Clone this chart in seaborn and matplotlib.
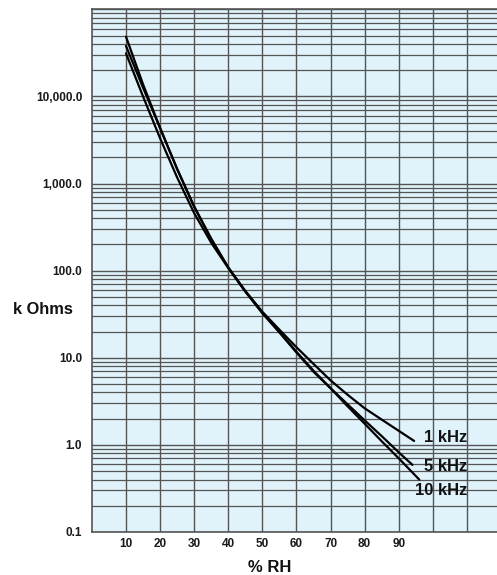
import numpy as np
import pandas as pd
import matplotlib
matplotlib.use("Agg")
import matplotlib.pyplot as plt
from matplotlib.ticker import LogLocator, FixedLocator, NullFormatter
import seaborn as sns

# Impedance (k Ohms) versus relative humidity (% RH) at three test frequencies
rh_1k = [10, 15, 20, 25, 30, 35, 40, 45, 50, 55, 60, 65, 70, 75, 80, 85, 90, 94.5]
kohm_1k = [48600, 13800, 4340, 1470, 546, 233, 109, 58.5, 33.7, 21, 13.2, 8.5, 5.5, 3.76, 2.63, 1.95, 1.45, 1.11]

rh_5k = [10, 15, 20, 25, 30, 35, 40, 45, 50, 55, 60, 65, 70, 75, 80, 85, 90, 94]
kohm_5k = [38000, 12600, 4340, 1470, 540, 230, 108, 58, 33, 20, 11.7, 7.1, 4.47, 2.92, 1.91, 1.26, 0.82, 0.59]

rh_10k = [10, 15, 20, 25, 30, 35, 40, 45, 50, 55, 60, 65, 70, 75, 80, 85, 90, 96]
kohm_10k = [31300, 10000, 3310, 1175, 457, 209, 107, 57.5, 32.4, 19.5, 11.5, 6.9, 4.47, 2.77, 1.75, 1.10, 0.70, 0.40]

series_names = ["1 kHz", "5 kHz", "10 kHz"]

x_ticks = [10, 20, 30, 40, 50, 60, 70, 80, 90, 100, 110]
x_tick_labels = ["10", "20", "30", "40", "50", "60", "70", "80", "90", "", ""]
y_ticks = [0.1, 1, 10, 100, 1000, 10000]
y_tick_labels = ["0.1", "1.0", "10.0", "100.0", "1,000.0", "10,000.0"]

df = pd.concat([
    pd.DataFrame({"rh": rh_1k, "kohm": kohm_1k, "freq": series_names[0]}),
    pd.DataFrame({"rh": rh_5k, "kohm": kohm_5k, "freq": series_names[1]}),
    pd.DataFrame({"rh": rh_10k, "kohm": kohm_10k, "freq": series_names[2]}),
], ignore_index=True)

sns.set_style("white")
plt.rcParams["font.family"] = ["Liberation Sans", "DejaVu Sans"]

fig = plt.figure(figsize=(4.97, 5.75), dpi=100)
ax = fig.add_axes([0.1849, 0.0748, 0.8233, 0.9089])
ax.set_facecolor("#e0f2fa")

grid_color = "#555555"
ax.set_yscale("log")
ax.set_xlim(0, 120)
ax.set_ylim(0.1, 100000)

ax.xaxis.set_major_locator(FixedLocator(x_ticks))
ax.set_xticklabels(x_tick_labels)
ax.yaxis.set_major_locator(FixedLocator(y_ticks + [100000]))
ax.set_yticklabels(y_tick_labels + [""])
ax.yaxis.set_minor_locator(LogLocator(base=10, subs=np.arange(2, 10)))
ax.yaxis.set_minor_formatter(NullFormatter())

ax.grid(which="major", axis="both", color=grid_color, linewidth=1.0, zorder=0)
ax.grid(which="minor", axis="y", color=grid_color, linewidth=0.9, zorder=0)
ax.set_axisbelow(True)

ax.tick_params(axis="both", which="both", length=0)
ax.tick_params(axis="x", pad=4.5, labelsize=8.5)
ax.tick_params(axis="y", pad=7, labelsize=8.5)
for lbl in ax.get_xticklabels() + ax.get_yticklabels():
    lbl.set_fontweight("bold")
    lbl.set_color("#1a1a1a")

sns.lineplot(data=df, x="rh", y="kohm", hue="freq", units="freq", estimator=None,
             palette=["black"] * 3, linewidth=1.6, legend=False, ax=ax, sort=False, zorder=3)

for side in ["left", "top", "bottom"]:
    ax.spines[side].set_color(grid_color)
    ax.spines[side].set_linewidth(1.2)
ax.spines["right"].set_visible(False)

# Curve labels at the right-hand ends of the curves
label_pos = [(110, 1.21), (110, 0.56), (110, 0.296)]
for name, (lx, ly) in zip(series_names, label_pos):
    ax.text(lx, ly, name, ha="right", va="center", fontsize=12, fontweight="bold",
            color="#111111", zorder=4)

ax.set_xlabel("")
ax.set_ylabel("")
fig.text(270 / 497, 1 - 568 / 575, "% RH", ha="center", va="center",
         fontsize=12, fontweight="bold", color="#111111")
fig.text(13 / 497, 1 - 309 / 575, "k Ohms", ha="left", va="center",
         fontsize=11.8, fontweight="bold", color="#111111")

fig.savefig("out.png", dpi=100)
